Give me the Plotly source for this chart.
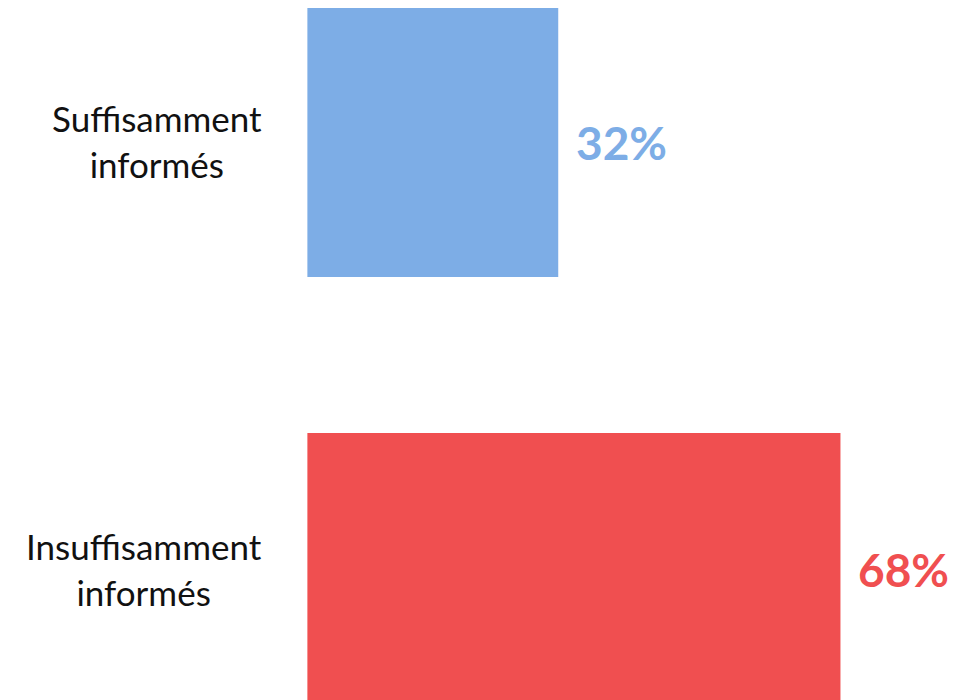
import plotly.graph_objects as go

categories = ["Suffisamment<br>informés", "Insuffisamment<br>informés"]
values = [32, 68]
value_labels = ["32%", "68%"]
colors = ["#7DADE6", "#F04F50"]

fig = go.Figure()
fig.add_trace(go.Bar(
    y=categories,
    x=values,
    orientation="h",
    width=0.635,
    marker=dict(color=colors, line=dict(width=0)),
    hoverinfo="skip",
))

# category labels, centered block ending left of the bars
for cat in categories:
    fig.add_annotation(
        x=0, y=cat, xref="x", yref="y",
        text=cat, showarrow=False,
        xanchor="right", yanchor="middle", xshift=-43, align="center",
        font=dict(family="Lato", size=35, color="#111111"),
    )

# value labels right of each bar
for cat, val, lab, col in zip(categories, values, value_labels, colors):
    fig.add_annotation(
        x=val, y=cat, xref="x", yref="y",
        text="<b>" + lab + "</b>", showarrow=False,
        xanchor="left", yanchor="middle", xshift=16, yshift=-1,
        font=dict(family="Lato", size=46, color=col),
    )

fig.update_layout(
    width=972, height=700,
    margin=dict(l=0, r=0, t=0, b=0),
    paper_bgcolor="white",
    plot_bgcolor="white",
    showlegend=False,
    xaxis=dict(range=[-38.19, 85.8], visible=False),
    yaxis=dict(range=[1.3267, -0.3126], visible=False,
               categoryorder="array", categoryarray=categories),
)

fig.write_html("out.html")
